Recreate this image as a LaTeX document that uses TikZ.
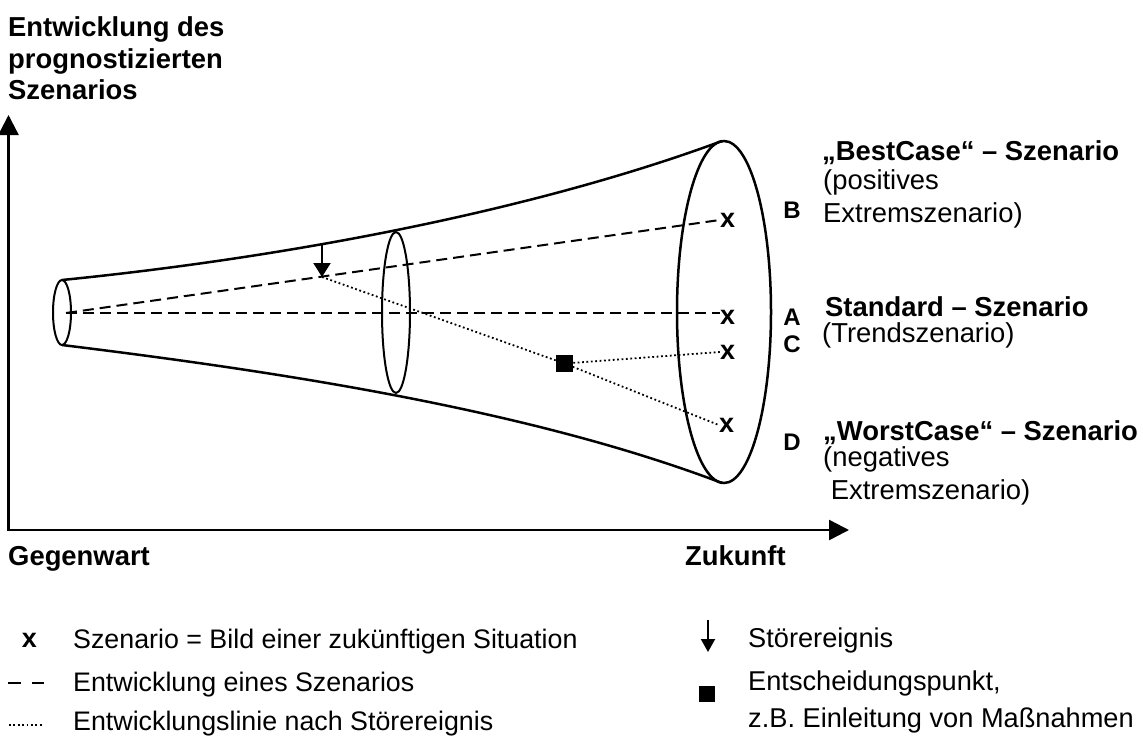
\documentclass[tikz,border=0pt]{standalone}
\usepackage{fontspec}
\setmainfont{Liberation Sans}
\usetikzlibrary{arrows.meta}
\begin{document}
\begin{tikzpicture}[x=1pt,y=-1pt,
  txt/.style={anchor=base west,inner sep=0pt,font=\fontsize{27.4}{27.4}\selectfont},
  btxt/.style={anchor=base west,inner sep=0pt,font=\fontsize{27.4}{27.4}\selectfont\bfseries},
  ltxt/.style={anchor=base west,inner sep=0pt,font=\fontsize{26.8}{26.8}\selectfont},
  rtxt/.style={anchor=base west,inner sep=0pt,font=\fontsize{27.2}{27.2}\selectfont},
  letter/.style={anchor=base,inner sep=0pt,font=\fontsize{24}{24}\selectfont\bfseries},
  xmark/.style={inner sep=0pt,font=\fontsize{27}{27}\selectfont\bfseries},
  tubeline/.style={line width=2.5pt},
  ringline/.style={line width=2pt},
  devline/.style={line width=2pt,dash pattern=on 11pt off 6pt},
  altline/.style={line width=1.8pt,dash pattern=on 1.8pt off 2.6pt},
  decision/.style={fill=black,inner sep=0pt,minimum size=17pt},
  axisline/.style={line width=2.5pt,line join=miter},
]
\useasboundingbox (0,0) rectangle (1143,745);

% axes
\coordinate (O) at (8.5,530);
\coordinate (ytip) at (8.5,115);
\coordinate (xtip) at (849,530);
\draw[axisline,{Triangle[width=20pt,length=20pt]}-{Triangle[width=20pt,length=20pt]}] (ytip) -- (O) -- (xtip);

% tube
\draw[tubeline] (62,280) .. controls (282,258) and (530,212) .. (722,141);
\draw[tubeline] (62,345) .. controls (282,372) and (530,410) .. (722,483);
\draw[ringline] (62,312.5) ellipse [x radius=9, y radius=32.5];
\draw[ringline] (396,312.5) ellipse [x radius=14, y radius=80.5];
\draw[tubeline] (724,312) ellipse [x radius=47, y radius=171];

% scenario marks
\node[xmark] (xB) at (727.5,220) {x};
\node[xmark] (xA) at (727.5,317.5) {x};
\node[xmark] (xC) at (727.5,352) {x};
\node[xmark] (xD) at (726.5,425) {x};

% development lines
\coordinate (s0) at (66,313);
\coordinate (ev) at (322,277);
\node[decision] (sq) at (564.5,363.5) {};
\draw[devline] (s0) -- (xB.west);
\draw[devline] (s0) -- (xA.west |- s0);
\draw[altline] (ev) -- (sq.center);
\draw[altline] (sq.center) -- (xC.west);
\draw[altline] (sq.center) -- (xD.west);

% disturbance
\coordinate (evtop) at (322,245);
\draw[line width=2pt,-{Triangle[width=17pt,length=14pt]}] (evtop) -- (ev);

% letters
\node[letter] (lB) at (792,218) {B};
\node[letter] (lA) at (792,325) {A};
\node[letter] (lC) at (792,352) {C};
\node[letter] (lD) at (792,450) {D};

% right texts
\node[btxt] (best1) at (822,160) {„BestCase“ – Szenario};
\node[txt] (best2) at (823,189) {(positives};
\node[txt] (best3) at (823,222) {Extremszenario)};
\node[btxt] (std1) at (825,316) {Standard – Szenario};
\node[txt] (std2) at (822,342) {(Trendszenario)};
\node[btxt] (worst1) at (823,440) {„WorstCase“ – Szenario};
\node[txt] (worst2) at (823,466) {(negatives};
\node[txt] (worst3) at (823,499) {\ Extremszenario)};

% title and axis labels
\node[btxt] (t1) at (8,36) {Entwicklung des};
\node[btxt] (t2) at (8,68) {prognostizierten};
\node[btxt] (t3) at (8,99) {Szenarios};
\node[btxt] (now) at (8,565) {Gegenwart};
\node[btxt] (future) at (685,565) {Zukunft};

% legend left
\node[xmark] (lgx) at (29.5,640) {x};
\node[ltxt] (lg1) at (73,648) {Szenario = Bild einer zukünftigen Situation};
\coordinate (d1a) at (8,683);
\coordinate (d1b) at (44,683);
\draw[line width=2.5pt,dash pattern=on 13pt off 11pt] (d1a) -- (d1b);
\node[ltxt] (lg2) at (73,691) {Entwicklung eines Szenarios};
\coordinate (p1a) at (9,725);
\coordinate (p1b) at (44,725);
\draw[altline] (p1a) -- (p1b);
\node[ltxt] (lg3) at (73,730) {Entwicklungslinie nach Störereignis};

% legend right
\coordinate (la1) at (708,620);
\coordinate (la2) at (708,652);
\draw[line width=2pt,-{Triangle[width=14pt,length=13pt]}] (la1) -- (la2);
\node[rtxt] (lg4) at (748,647) {Störereignis};
\node[decision,minimum size=16pt] (lgsq) at (707,694) {};
\node[rtxt] (lg5) at (748,690) {Entscheidungspunkt,};
\node[rtxt] (lg6) at (748,727) {z.B. Einleitung von Maßnahmen};
\end{tikzpicture}
\end{document}
